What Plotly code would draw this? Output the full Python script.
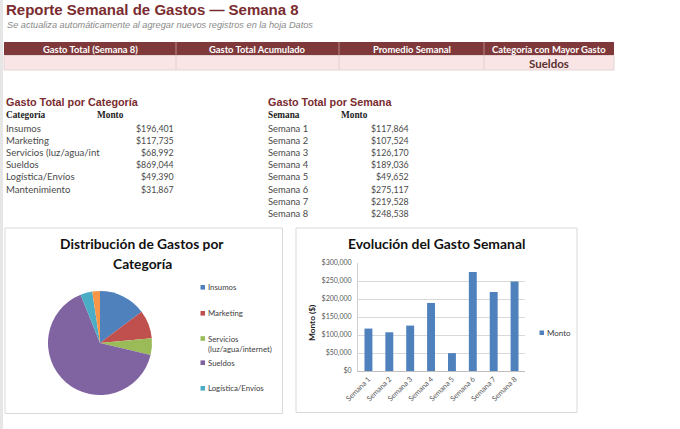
import plotly.graph_objects as go

W, H = 680, 429

# ---------------- data ----------------
titulo = "Reporte Semanal de Gastos — Semana 8"
subtitulo = "Se actualiza automáticamente al agregar nuevos registros en la hoja Datos"
kpi_headers = ["Gasto Total (Semana 8)", "Gasto Total Acumulado", "Promedio Semanal", "Categoría con Mayor Gasto"]
kpi_values = ["", "", "", "Sueldos"]

categorias = ["Insumos", "Marketing", "Servicios (luz/agua/internet)", "Sueldos", "Logística/Envíos", "Mantenimiento"]
montos_cat = [196401, 117735, 68992, 869044, 49390, 31867]
colores_cat = ["#4f81bd", "#c0504d", "#9bbb59", "#8064a2", "#4bacc6", "#f79646"]

semanas = ["Semana 1", "Semana 2", "Semana 3", "Semana 4", "Semana 5", "Semana 6", "Semana 7", "Semana 8"]
montos_sem = [117864, 107524, 126170, 189036, 49652, 275117, 219528, 248538]

y_ticks = [0, 50000, 100000, 150000, 200000, 250000, 300000]

# ---------------- helpers ----------------
def px(x):
    return x / W

def py(y):
    return 1 - y / H

MAROON = "#7a2c30"
TXT = "#4a4a4a"
SANS = "Liberation Sans, Arial, sans-serif"
CAL = "Lato, Open Sans, sans-serif"
SERIF = "Liberation Serif, DejaVu Serif, serif"

fig = go.Figure()

# pie
fig.add_trace(go.Pie(
    labels=categorias, values=montos_cat, sort=False, direction="clockwise", rotation=0,
    marker=dict(colors=colores_cat, line=dict(width=0)), textinfo="none", hoverinfo="label+value+percent",
    domain=dict(x=[px(48), px(152)], y=[py(395), py(291)]), showlegend=False,
))

# bar
fig.add_trace(go.Bar(
    x=semanas, y=montos_sem, name="Monto", marker=dict(color="#4f81bd", line=dict(width=0)),
    showlegend=False, xaxis="x", yaxis="y",
))

shapes = []
ann = []

def text(x, y, s, size, color=TXT, family=CAL, xanchor="left", bold=False, textangle=0):
    if bold:
        s = "<b>" + s + "</b>"
    ann.append(dict(x=px(x), y=py(y), xref="paper", yref="paper", text=s, showarrow=False,
                    xanchor=xanchor, yanchor="middle", textangle=textangle,
                    font=dict(size=size, color=color, family=family), borderpad=0))

# left row-header strip of the sheet
shapes.append(dict(type="rect", xref="paper", yref="paper", x0=px(0), x1=px(3), y0=py(429), y1=py(0),
                   fillcolor="#e6e6e6", line=dict(width=0), layer="below"))

# title block
text(5, 10, titulo, 15.0, color=MAROON, family=SANS, bold=True)
text(6, 24.5, "<i>" + subtitulo + "</i>", 9.2, color="#8a8a8a", family=SANS)

# KPI band
cols = [4, 176, 339, 484, 614]
shapes.append(dict(type="rect", xref="paper", yref="paper", x0=px(4), x1=px(614), y0=py(55.5), y1=py(42),
                   fillcolor="#80393b", line=dict(width=0), layer="below"))
shapes.append(dict(type="rect", xref="paper", yref="paper", x0=px(4), x1=px(614), y0=py(70), y1=py(55.5),
                   fillcolor="#f9e5e5", line=dict(color="#e6d3d3", width=1), layer="below"))
for c in cols[1:-1]:
    shapes.append(dict(type="line", xref="paper", yref="paper", x0=px(c), x1=px(c), y0=py(55.5), y1=py(42),
                       line=dict(color="#b88889", width=1)))
    shapes.append(dict(type="line", xref="paper", yref="paper", x0=px(c), x1=px(c), y0=py(70), y1=py(55.5),
                       line=dict(color="#e3d0d0", width=1)))
for i, h in enumerate(kpi_headers):
    cx = (cols[i] + cols[i + 1]) / 2
    text(cx, 49, h, 9.4, color="white", family=CAL, xanchor="center", bold=True)
    if kpi_values[i]:
        text(cx, 63, kpi_values[i], 11.5, color="#5b3030", family=CAL, xanchor="center", bold=True)

# table: category
text(5, 102.5, "Gasto Total por Categoría", 10.8, color=MAROON, family=SANS, bold=True)
text(5, 115.5, "Categoría", 9.3, color="#222", family=SERIF, bold=True)
text(96, 115.5, "Monto", 9.3, color="#222", family=SERIF, bold=True)
for i, (c, v) in enumerate(zip(categorias, montos_cat)):
    yy = 128 + i * 12.2
    text(5, yy, c[:23], 9.6, color=TXT)
    text(175, yy, f"${v:,.0f}", 8.8, color=TXT, xanchor="right")

# table: week
text(267, 102.5, "Gasto Total por Semana", 10.8, color=MAROON, family=SANS, bold=True)
text(267, 115.5, "Semana", 9.3, color="#222", family=SERIF, bold=True)
text(340, 115.5, "Monto", 9.3, color="#222", family=SERIF, bold=True)
for i, (s, v) in enumerate(zip(semanas, montos_sem)):
    yy = 128.3 + i * 12.14
    text(267, yy, s, 9.4, color=TXT)
    text(410, yy, f"${v:,.0f}", 8.8, color=TXT, xanchor="right")

# chart frames
shapes.append(dict(type="rect", xref="paper", yref="paper", x0=px(5), x1=px(282.5), y0=py(413.5), y1=py(228),
                   fillcolor="white", line=dict(color="#d9d9d9", width=1), layer="below"))
shapes.append(dict(type="rect", xref="paper", yref="paper", x0=px(296), x1=px(577), y0=py(412.5), y1=py(228),
                   fillcolor="white", line=dict(color="#d9d9d9", width=1), layer="below"))

# pie title + legend (only the entries that fit in the chart area)
text(142, 244, "Distribución de Gastos por", 13.8, color="#111", xanchor="center", bold=True)
text(142, 263, "Categoría", 13.8, color="#111", xanchor="center", bold=True)
leg_y = [287.3, 313.3, 338.5, 362.7, 388.3]
for i in range(5):
    yy = leg_y[i]
    shapes.append(dict(type="rect", xref="paper", yref="paper", x0=px(200.5), x1=px(205), y0=py(yy + 2.3), y1=py(yy - 2.3),
                       fillcolor=colores_cat[i], line=dict(width=0)))
    lab = categorias[i]
    if "(" in lab:
        a, b = lab.split(" (", 1)
        text(207, yy, a, 7.8, color="#404040")
        text(207, yy + 10.5, "(" + b, 7.8, color="#404040")
    else:
        text(207, yy, lab, 7.8, color="#404040")

# bar chart title, axis title and legend
text(436, 243.5, "Evolución del Gasto Semanal", 13.9, color="#111", xanchor="center", bold=True)
text(312, 323, "Monto ($)", 8.3, color="#222", xanchor="center", bold=True, textangle=-90)
shapes.append(dict(type="rect", xref="paper", yref="paper", x0=px(539.5), x1=px(544), y0=py(335), y1=py(330.5),
                   fillcolor="#4f81bd", line=dict(width=0)))
text(546, 332.7, "Monto", 8, color="#404040")

fig.update_layout(
    width=W, height=H, margin=dict(l=0, r=0, t=0, b=0, autoexpand=False),
    paper_bgcolor="white", plot_bgcolor="rgba(0,0,0,0)",
    shapes=shapes, annotations=ann, bargap=0.62,
    xaxis=dict(domain=[px(358), px(525)], anchor="y", tickangle=-45, showgrid=False,
               showline=True, linecolor="#bfbfbf", linewidth=1, ticks="",
               tickfont=dict(size=7.3, color="#595959", family=CAL), fixedrange=True),
    yaxis=dict(domain=[py(371), py(263)], anchor="x", range=[0, 300000], tickvals=y_ticks,
               tickformat="$,.0f", showgrid=True, gridcolor="#d9d9d9", gridwidth=1, zeroline=False,
               showline=True, linecolor="#d0d0d0", ticks="", ticklabelstandoff=4,
               tickfont=dict(size=7.0, color="#595959", family=CAL), fixedrange=True),
    hovermode="closest",
)

# place the figure at the very top-left of the page (no default body margin)
fig.write_html("out.html", config={"displayModeBar": False},
               post_script="document.body.style.margin='0';document.body.style.overflow='hidden';")
